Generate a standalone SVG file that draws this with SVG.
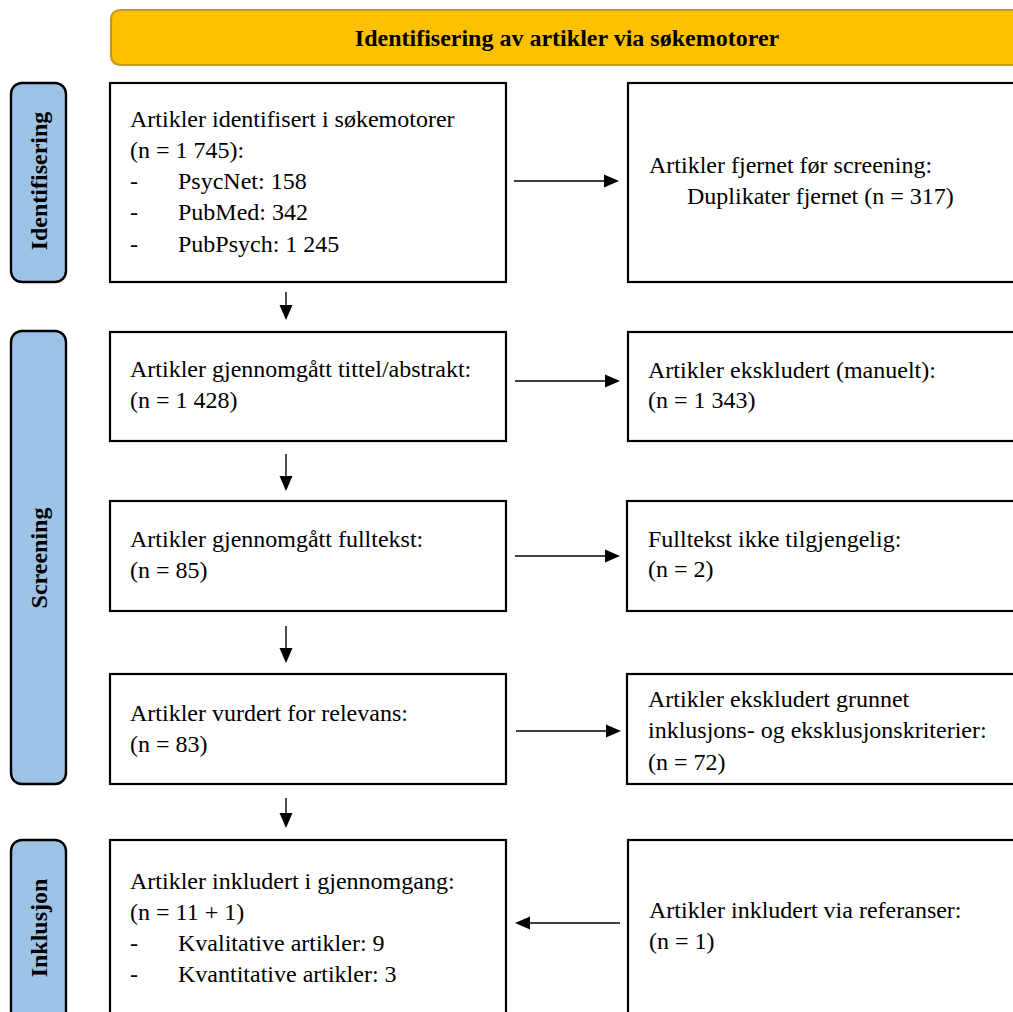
<svg xmlns="http://www.w3.org/2000/svg" width="1013" height="1012" viewBox="0 0 1013 1012">
<defs>
<style>
.box{fill:#fff;stroke:#000;stroke-width:2.2}
.side{fill:#9DC3E6;stroke:#000;stroke-width:2.4}
.hdr{fill:#FFC000;stroke:#C49A1C;stroke-width:2.2}
.t{font-family:"Liberation Serif","Times New Roman",serif;font-size:24px;fill:#000}
.b{font-family:"Liberation Serif","Times New Roman",serif;font-size:24px;font-weight:bold;fill:#000}
.c{stroke:#000;stroke-width:1.4;fill:none}
.h{fill:#000}
</style>
</defs>
<rect width="1013" height="1012" fill="#fff"/>

<g id="header">
<rect class="hdr" x="111" y="10" width="920" height="55" rx="9"/>
<text class="b" x="567" y="46" text-anchor="middle">Identifisering av artikler via søkemotorer</text>
</g>

<g id="side-identifisering">
<rect class="side" x="11" y="83" width="55" height="199" rx="11"/>
<text class="b" transform="translate(47,181) rotate(-90)" text-anchor="middle">Identifisering</text>
</g>
<g id="side-screening">
<rect class="side" x="11" y="331" width="55" height="453" rx="11"/>
<text class="b" transform="translate(47,558) rotate(-90)" text-anchor="middle">Screening</text>
</g>
<g id="side-inklusjon">
<rect class="side" x="11" y="840" width="55" height="200" rx="11"/>
<text class="b" transform="translate(47,928) rotate(-90)" text-anchor="middle">Inklusjon</text>
</g>

<g id="box-identified">
<rect class="box" x="110" y="83" width="396" height="199"/>
<text class="t" x="130" y="127">Artikler identifisert i søkemotorer</text>
<text class="t" x="130" y="158">(n = 1 745):</text>
<text class="t" x="130" y="189">-</text><text class="t" x="178" y="189">PsycNet: 158</text>
<text class="t" x="130" y="220">-</text><text class="t" x="178" y="220">PubMed: 342</text>
<text class="t" x="130" y="252">-</text><text class="t" x="178" y="252">PubPsych: 1 245</text>
</g>
<g id="box-removed">
<rect class="box" x="628" y="83" width="400" height="199"/>
<text class="t" x="649" y="173">Artikler fjernet før screening:</text>
<text class="t" x="687" y="204">Duplikater fjernet (n = 317)</text>
</g>

<g id="box-screened">
<rect class="box" x="110" y="332" width="396" height="109"/>
<text class="t" x="130" y="377">Artikler gjennomgått tittel/abstrakt:</text>
<text class="t" x="130" y="408">(n = 1 428)</text>
</g>
<g id="box-excluded">
<rect class="box" x="628" y="332" width="400" height="109"/>
<text class="t" x="648" y="378">Artikler ekskludert (manuelt):</text>
<text class="t" x="648" y="408">(n = 1 343)</text>
</g>

<g id="box-fulltext">
<rect class="box" x="110" y="501" width="396" height="110"/>
<text class="t" x="130" y="547">Artikler gjennomgått fulltekst:</text>
<text class="t" x="130" y="578">(n = 85)</text>
</g>
<g id="box-unavailable">
<rect class="box" x="627" y="501" width="400" height="110"/>
<text class="t" x="648" y="547">Fulltekst ikke tilgjengelig:</text>
<text class="t" x="648" y="577">(n = 2)</text>
</g>

<g id="box-relevance">
<rect class="box" x="110" y="674" width="396" height="110"/>
<text class="t" x="130" y="721">Artikler vurdert for relevans:</text>
<text class="t" x="130" y="752">(n = 83)</text>
</g>
<g id="box-criteria">
<rect class="box" x="627" y="674" width="400" height="110"/>
<text class="t" x="648" y="707">Artikler ekskludert grunnet</text>
<text class="t" x="648" y="738">inklusjons- og eksklusjonskriterier:</text>
<text class="t" x="648" y="770">(n = 72)</text>
</g>

<g id="box-included">
<rect class="box" x="110" y="840" width="396" height="200"/>
<text class="t" x="130" y="889">Artikler inkludert i gjennomgang:</text>
<text class="t" x="130" y="920">(n = 11 + 1)</text>
<text class="t" x="130" y="951">-</text><text class="t" x="178" y="951">Kvalitative artikler: 9</text>
<text class="t" x="130" y="982">-</text><text class="t" x="178" y="982">Kvantitative artikler: 3</text>
</g>
<g id="box-references">
<rect class="box" x="628" y="840" width="400" height="200"/>
<text class="t" x="649" y="918">Artikler inkludert via referanser:</text>
<text class="t" x="649" y="949">(n = 1)</text>
</g>

<g id="connectors">
<line class="c" x1="514" y1="181" x2="605" y2="181"/><polygon class="h" points="604,174.5 619,181 604,187.5"/>
<line class="c" x1="515" y1="381" x2="606" y2="381"/><polygon class="h" points="605,374.5 620,381 605,387.5"/>
<line class="c" x1="515" y1="556" x2="606" y2="556"/><polygon class="h" points="605,549.5 620,556 605,562.5"/>
<line class="c" x1="516" y1="731" x2="607" y2="731"/><polygon class="h" points="606,724.5 621,731 606,737.5"/>
<line class="c" x1="620" y1="923" x2="529" y2="923"/><polygon class="h" points="530,916.5 515,923 530,929.5"/>
<line class="c" x1="286" y1="292" x2="286" y2="306"/><polygon class="h" points="279.5,305 292.5,305 286,320"/>
<line class="c" x1="286" y1="454" x2="286" y2="477"/><polygon class="h" points="279.5,476 292.5,476 286,491"/>
<line class="c" x1="286" y1="626" x2="286" y2="649"/><polygon class="h" points="279.5,648 292.5,648 286,663"/>
<line class="c" x1="286" y1="798" x2="286" y2="814"/><polygon class="h" points="279.5,813 292.5,813 286,828"/>
</g>
</svg>
